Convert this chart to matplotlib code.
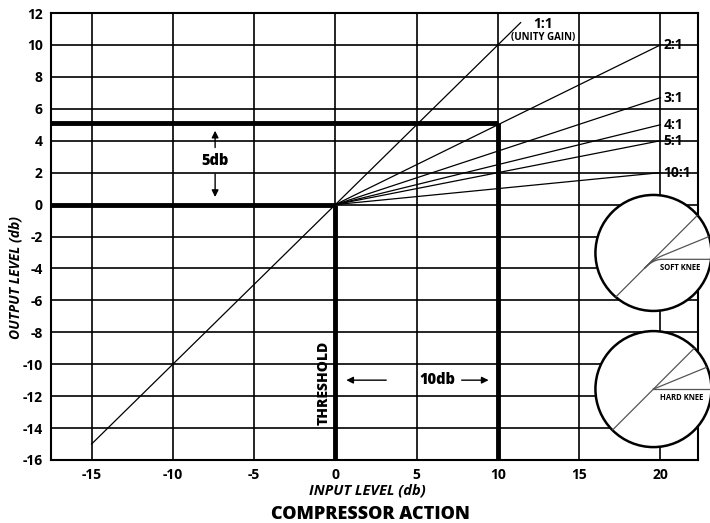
import numpy as np
import matplotlib
matplotlib.use("Agg")
import matplotlib.pyplot as plt
from matplotlib.patches import Ellipse

plt.rcParams['font.family'] = ['Open Sans', 'DejaVu Sans']
plt.rcParams['axes.unicode_minus'] = False

# data
x_ticks = [-15, -10, -5, 0, 5, 10, 15, 20]
y_ticks = list(range(-16, 13, 2))
unity_in = [-15, 11.4]
unity_out = [-15, 11.4]
ratio_labels = ["2:1", "3:1", "4:1", "5:1", "10:1"]
ratio_end_in = 20
ratio_end_out = [10, 6.7, 5, 4, 2]
threshold = 0
limit_in = 10
limit_out = 5.1
knee_names = ["SOFT KNEE", "HARD KNEE"]
knee_centers = [(19.57, -3.03), (19.57, -11.56)]
knee_offsets = [-0.11, 0.0]
knee_slopes = [1.0, 0.41, 0.0]

fig = plt.figure(figsize=(7.10, 5.23), dpi=100)
ax = fig.add_axes([0.0718, 0.1205, 0.911, 0.8546])
ax.set_xlim(-17.5, 22.3)
ax.set_ylim(-16, 12)

ax.set_xticks(x_ticks)
ax.set_yticks(y_ticks)
ax.tick_params(length=0, labelsize=10, pad=6)
for lab in ax.get_xticklabels() + ax.get_yticklabels():
    lab.set_fontweight('bold')
ax.grid(True, color='black', linewidth=1.2, zorder=0)
for s in ax.spines.values():
    s.set_linewidth(1.5)

# unity gain and ratio lines
ax.plot(unity_in, unity_out, color='black', lw=0.9, zorder=2)
for lab, yo in zip(ratio_labels, ratio_end_out):
    ax.plot([threshold, ratio_end_in], [threshold, yo], color='black', lw=0.9, zorder=2)
    ax.text(ratio_end_in + 0.2, yo, lab, fontsize=10, fontweight='bold', va='center', ha='left')
ax.text(unity_in[1] + 1.4, unity_out[1] - 0.1, "1:1", fontsize=10, fontweight='bold', ha='center', va='center')
ax.text(unity_in[1] + 1.4, unity_out[1] - 0.95, "(UNITY GAIN)", fontsize=7, fontweight='bold', ha='center', va='center')

# threshold / limit thick lines
ax.plot([-17.5, threshold], [threshold, threshold], color='black', lw=3.5, zorder=3, solid_capstyle='butt')
ax.plot([threshold, threshold], [-16, threshold], color='black', lw=3.5, zorder=3, solid_capstyle='butt')
ax.plot([-17.5, limit_in], [limit_out, limit_out], color='black', lw=3.5, zorder=3, solid_capstyle='butt')
ax.plot([limit_in, limit_in], [-16, limit_out], color='black', lw=3.5, zorder=3, solid_capstyle='butt')

# 5db annotation
ax.text(-7.4, 2.75, "5db", fontsize=10.5, fontweight='heavy', ha='center', va='center', zorder=4,
        bbox=dict(facecolor='white', edgecolor='none', pad=1))
ax.annotate("", xy=(-7.4, 4.8), xytext=(-7.4, 3.4),
            arrowprops=dict(arrowstyle='-|>', color='black', lw=1, mutation_scale=10))
ax.annotate("", xy=(-7.4, 0.3), xytext=(-7.4, 2.1),
            arrowprops=dict(arrowstyle='-|>', color='black', lw=1, mutation_scale=10))

# 10db annotation
ax.text(6.3, -11, "10db", fontsize=10.5, fontweight='heavy', ha='center', va='center', zorder=4,
        bbox=dict(facecolor='white', edgecolor='none', pad=1))
ax.annotate("", xy=(0.5, -11), xytext=(3.3, -11),
            arrowprops=dict(arrowstyle='-|>', color='black', lw=1, mutation_scale=10))
ax.annotate("", xy=(9.6, -11), xytext=(7.6, -11),
            arrowprops=dict(arrowstyle='-|>', color='black', lw=1, mutation_scale=10))

ax.text(-0.75, -11.2, "THRESHOLD", rotation=90, fontsize=10, fontweight='heavy', ha='center', va='center')

# knee insets
px_x = fig.dpi * fig.get_figwidth() * 0.911 / (22.3 + 17.5)
px_y = fig.dpi * fig.get_figheight() * 0.8546 / 28
r_px = 58
rx, ry = r_px / px_x, r_px / px_y
for name, (cx, cy), ky in zip(knee_names, knee_centers, knee_offsets):
    circ = Ellipse((cx, cy), 2 * rx, 2 * ry, facecolor='white', edgecolor='black', lw=1.8,
                   zorder=5, clip_on=False)
    ax.add_patch(circ)
    soft = name.startswith("SOFT")
    u = np.linspace(-1.3, 0, 50)
    line, = ax.plot(cx + u * rx, cy + (ky + u) * ry, color='#555555', lw=0.9, zorder=6)
    line.set_clip_box(None)
    line.set_clip_path(circ)
    for sl in knee_slopes:
        if soft:
            w = 0.3
            u = np.linspace(-0.15, 1.3, 120)
            v = np.where(u < 0.15, u + (sl - 1) * (u + 0.15) ** 2 / (2 * w),
                         0.15 + (sl - 1) * 0.15 + sl * (u - 0.15))
        else:
            u = np.linspace(0, 1.3, 50)
            v = sl * u
        line, = ax.plot(cx + u * rx, cy + (ky + v) * ry, color='#555555', lw=0.9, zorder=6)
        line.set_clip_box(None)
        line.set_clip_path(circ)
    ax.text(cx + 0.12 * rx, cy + (ky - 0.06) * ry, name, fontsize=5.5, fontweight='bold',
            ha='left', va='top', zorder=7, clip_on=False)

fig.text(0.022, 0.47, "OUTPUT LEVEL (db)", rotation=90, fontsize=10, fontweight='bold',
         style='italic', ha='center', va='center')
fig.text(0.518, 0.063, "INPUT LEVEL (db)", fontsize=10.5, fontweight='bold', style='italic',
         ha='center', va='center')
fig.text(0.522, 0.017, "COMPRESSOR ACTION", fontsize=13, fontweight='heavy', ha='center', va='center')

fig.savefig("out.png", dpi=100)
